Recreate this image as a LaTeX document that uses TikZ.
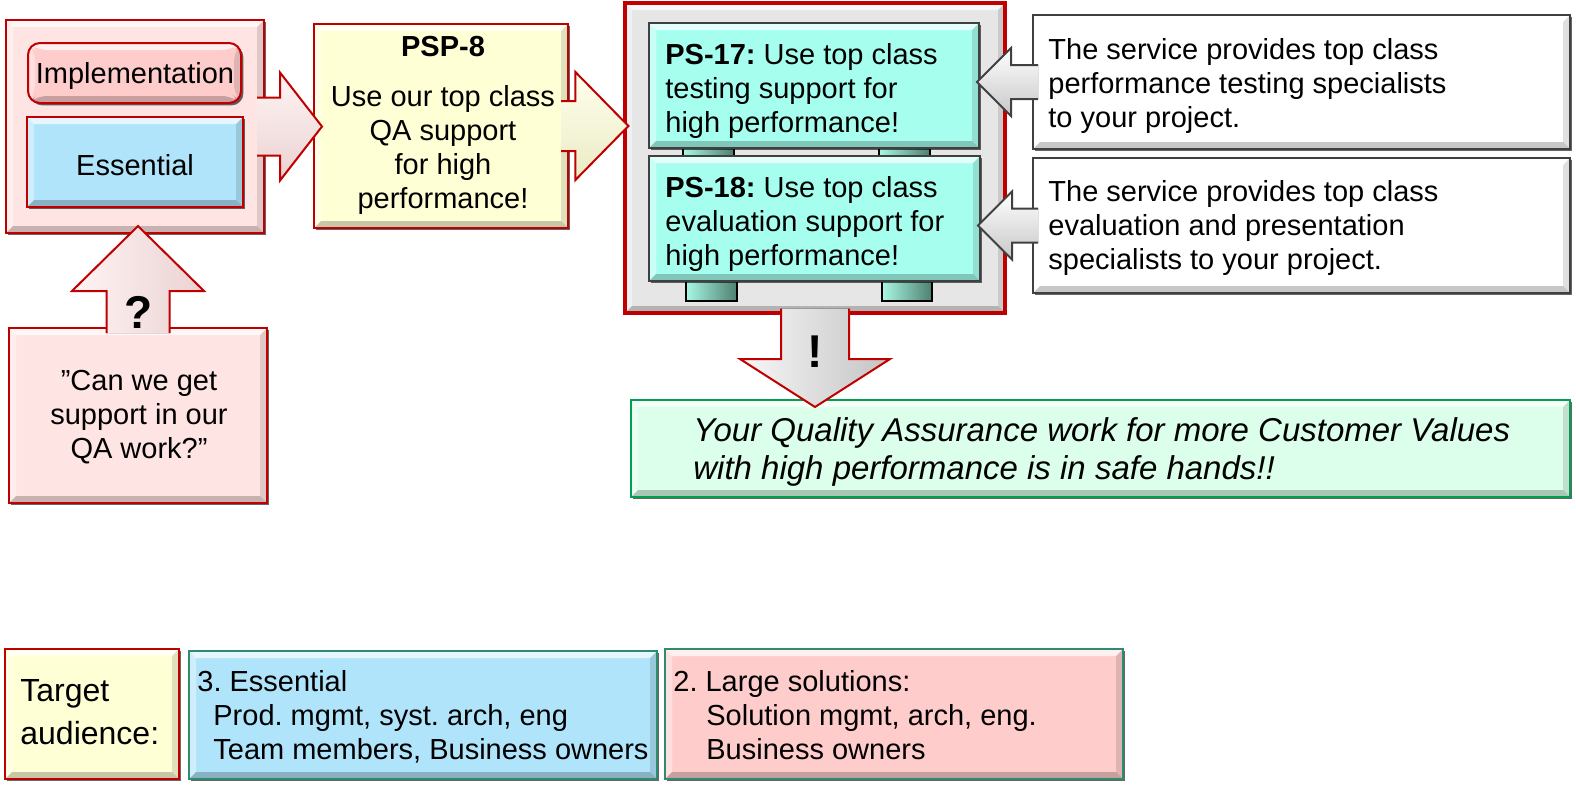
\documentclass[tikz,border=0pt]{standalone}
\usepackage{fontspec}
\setmainfont{Liberation Sans}
\usetikzlibrary{calc,shadows}
\frenchspacing
\definecolor{dred}{HTML}{C00000}
\definecolor{pinkL}{HTML}{FFE4E4}
\definecolor{pinkM}{HTML}{FFCCCC}
\definecolor{blueL}{HTML}{B0E4FA}
\definecolor{yelL}{HTML}{FFFFD6}
\definecolor{aqua}{HTML}{A6FFEE}
\definecolor{grayL}{HTML}{E6E6E6}
\definecolor{grnL}{HTML}{DBFFEA}
\definecolor{grnB}{HTML}{00A050}
\definecolor{tealB}{HTML}{2E8B6E}
\definecolor{dgray}{HTML}{404040}
\definecolor{tabL}{HTML}{A8F8E4}
\definecolor{tabR}{HTML}{4E7F70}
\def\bw{3.5pt}
\newcommand\ftxt{\fontsize{14.5}{17}\selectfont}
\newcommand\fbig{\fontsize{23}{23}\selectfont\bfseries}
\newcommand\harrowblk[7]{%
  \fill[#1] let \p1=(#3), \p2=(#4) in
    (\x1,{\y1+#5}) -- ({\x2-(#7)},{\y1+#5}) -- ({\x2-(#7)},{\y1+#6}) -- (\x2,\y1)
    -- ({\x2-(#7)},{\y1-#6}) -- ({\x2-(#7)},{\y1-#5}) -- (\x1,{\y1-#5}) -- cycle;
  \draw[#2] let \p1=(#3), \p2=(#4) in
    (\x1,{\y1+#5}) -- ({\x2-(#7)},{\y1+#5}) -- ({\x2-(#7)},{\y1+#6}) -- (\x2,\y1)
    -- ({\x2-(#7)},{\y1-#6}) -- ({\x2-(#7)},{\y1-#5}) -- (\x1,{\y1-#5});
}
\newcommand\varrowblk[7]{%
  \fill[#1] let \p1=(#3), \p2=(#4) in
    ({\x1+#5},\y1) -- ({\x1+#5},{\y2-(#7)}) -- ({\x1+#6},{\y2-(#7)}) -- (\x1,\y2)
    -- ({\x1-#6},{\y2-(#7)}) -- ({\x1-#5},{\y2-(#7)}) -- ({\x1-#5},\y1) -- cycle;
  \draw[#2] let \p1=(#3), \p2=(#4) in
    ({\x1+#5},\y1) -- ({\x1+#5},{\y2-(#7)}) -- ({\x1+#6},{\y2-(#7)}) -- (\x1,\y2)
    -- ({\x1-#6},{\y2-(#7)}) -- ({\x1-#5},{\y2-(#7)}) -- ({\x1-#5},\y1);
}
\tikzset{
  bevel/.style={path picture={
    \path (path picture bounding box.north west) coordinate (bNW)
          (path picture bounding box.north east) coordinate (bNE)
          (path picture bounding box.south west) coordinate (bSW)
          (path picture bounding box.south east) coordinate (bSE);
    \fill[white,opacity=0.7] (bNW) -- (bNE) -- ([shift={(-\bw,-\bw)}]bNE) -- ([shift={(\bw,-\bw)}]bNW) -- cycle;
    \fill[white,opacity=0.4] (bNW) -- ([shift={(\bw,-\bw)}]bNW) -- ([shift={(\bw,\bw)}]bSW) -- (bSW) -- cycle;
    \fill[black,opacity=0.22] (bSW) -- (bSE) -- ([shift={(-\bw,\bw)}]bSE) -- ([shift={(\bw,\bw)}]bSW) -- cycle;
    \fill[black,opacity=0.12] (bNE) -- (bSE) -- ([shift={(-\bw,\bw)}]bSE) -- ([shift={(-\bw,-\bw)}]bNE) -- cycle;
  }},
  box/.style={rectangle, inner sep=0pt, bevel, line width=1pt,
    drop shadow={shadow xshift=1.2pt,shadow yshift=-1.2pt,opacity=0.6,fill=black}},
  redbox/.style={box, draw=dred},
  tealbox/.style={box, draw=tealB},
  graybox/.style={box, draw=dgray},
  tab/.style={rectangle, draw=black, line width=0.8pt, left color=tabL, right color=tabR},
  txt/.style={inner sep=0pt, font=\ftxt},
  redline/.style={draw=dred, line width=1pt, line join=miter},
  grayline/.style={draw=dgray, line width=1pt, line join=miter},
}
\begin{document}
\begin{tikzpicture}[x=0.5pt,y=-0.5pt]
\useasboundingbox (0,0) rectangle (1576,784);
% left group
\node[redbox, fill=pinkL, minimum width=129pt, minimum height=106.5pt] (outer) at (135,126.5) {};
\node[redbox, fill=pinkM, rounded corners=6pt, minimum width=106.5pt, minimum height=30pt] (impl) at (134.5,73) {};
\node[redbox, fill=blueL, minimum width=108pt, minimum height=45pt] (ess) at (135,162) {};
% PSP
\node[redbox, fill=yelL, minimum width=127pt, minimum height=102pt] (psp) at (441,126) {};
% center
\node[box, draw=dred, line width=1.6pt, fill=grayL, minimum width=190pt, minimum height=155pt] (center) at (815,158) {};
\node[tab, minimum width=25.5pt, minimum height=4pt] (tab1) at (708.5,152) {};
\node[tab, minimum width=25.5pt, minimum height=4pt] (tab2) at (904.5,152) {};
\node[tab, minimum width=25.5pt, minimum height=10pt] (tab3) at (711.5,291) {};
\node[tab, minimum width=25pt, minimum height=10pt] (tab4) at (907,291) {};
\node[graybox, fill=aqua, minimum width=165pt, minimum height=62.5pt] (ps17) at (814,85.5) {};
\node[graybox, fill=aqua, minimum width=165.5pt, minimum height=62.5pt] (ps18) at (814.5,218.5) {};
% right boxes
\node[graybox, fill=white, minimum width=268.5pt, minimum height=67pt] (r1) at (1301.5,82) {};
\node[graybox, fill=white, minimum width=268.5pt, minimum height=67.5pt] (r2) at (1301.5,225.5) {};
% question box
\node[redbox, fill=pinkL, minimum width=129pt, minimum height=87.5pt] (qbox) at (138,415.5) {};
% result
\node[box, draw=grnB, fill=grnL, minimum width=469.5pt, minimum height=48.5pt] (res) at (1100.5,448.5) {};
% legend
\node[redbox, fill=yelL, minimum width=87pt, minimum height=65pt] (tgt) at (92,714) {};
\node[tealbox, fill=blueL, minimum width=234pt, minimum height=64pt] (lblue) at (423,715) {};
\node[tealbox, fill=pinkM, minimum width=229pt, minimum height=65pt] (lpink) at (894,714) {};
% block arrows
\harrowblk{top color=pinkL!40!white, bottom color=pinkL!92!black}{redline}{[xshift=-4pt]outer.east}{[xshift=4.5pt]psp.west}{14.5pt}{27pt}{21pt}
\harrowblk{top color=yelL!40!white, bottom color=yelL!92!black}{redline}{[xshift=-4pt]psp.east}{[xshift=2.5pt]center.west}{12.5pt}{27pt}{26.5pt}
\harrowblk{top color=white,bottom color=black!22}{grayline}{[xshift=3pt]r1.west}{[xshift=-1.5pt]ps17.east}{8.5pt}{17pt}{-17pt}
\harrowblk{top color=white,bottom color=black!22}{grayline}{[xshift=3pt]r2.west}{[xshift=-1.5pt]ps18.east}{8.5pt}{17pt}{-17pt}
\varrowblk{left color=pinkL!40!white, right color=pinkL!92!black}{redline}{[yshift=-3pt]qbox.north}{[yshift=4pt]outer.south}{15.75pt}{33pt}{32.5pt}
\varrowblk{left color=white!70!grayL, right color=grayL!85!black}{redline}{[yshift=3pt]center.south}{[yshift=-4pt]res.north}{17pt}{37.5pt}{-24pt}
% texts
\node[txt] (timpl) at (135,76) {Implementation};
\node[txt] (tess) at (135,165) {Essential};
\node[txt, align=center] (tpsp) at (443,125) {\textbf{PSP-8}\\[8pt]Use our top class\\QA support\\for high\\performance!};
\node[txt, anchor=west, align=left] (t17) at (665,91) {\textbf{PS-17:} Use top class\\testing support for\\high performance!};
\node[txt, anchor=west, align=left] (t18) at (665,224) {\textbf{PS-18:} Use top class\\evaluation support for\\high performance!};
\node[txt, anchor=west, align=left] (tr1) at (1048,86) {The service provides top class\\performance testing specialists\\to your project.};
\node[txt, anchor=west, align=left] (tr2) at (1048,228) {The service provides top class\\evaluation and presentation\\specialists to your project.};
\node[inner sep=0pt, font=\fbig] (tq) at (139,312) {?};
\node[txt, align=center] (tqt) at (139,417) {”Can we get\\support in our\\QA work?”};
\node[inner sep=0pt, font=\fbig] (tex) at (815,352) {!};
\node[inner sep=0pt, anchor=west, align=left, font=\fontsize{16.5}{19}\selectfont\itshape] (tres) at (693,452) {Your Quality Assurance work for more Customer Values\\with high performance is in safe hands!!};
\node[inner sep=0pt, anchor=west, align=left, font=\fontsize{16}{21.5}\selectfont] (ttgt) at (20,712.5) {Target\\audience:};
\node[txt, anchor=west, align=left] (tblue) at (197,716.5) {3. Essential\\\hspace*{8pt}Prod. mgmt, syst. arch, eng\\\hspace*{8pt}Team members, Business owners};
\node[txt, anchor=west, align=left] (tpink) at (673,715.5) {2. Large solutions:\\\hspace*{16.5pt}Solution mgmt, arch, eng.\\\hspace*{16.5pt}Business owners};
\end{tikzpicture}
\end{document}
